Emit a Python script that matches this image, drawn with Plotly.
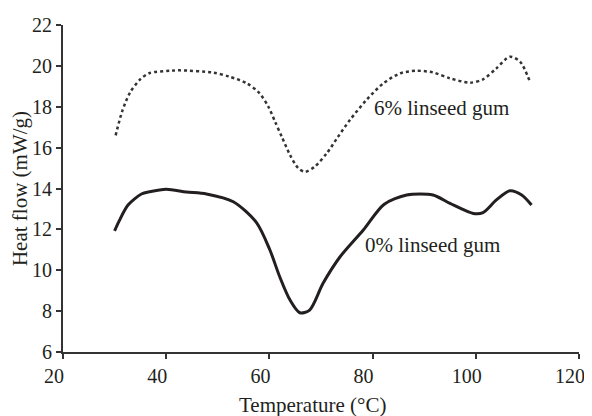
import plotly.graph_objects as go

# 0% linseed gum (solid)
temp_0 = [30.0, 30.8, 32.6, 35.2, 36.8, 40.0, 43.9, 47.8, 53.0, 57.5, 60.1, 62.0, 64.0, 65.9, 67.8,
          70.4, 73.7, 78.2, 82.2, 86.6, 91.7, 95.0, 99.5, 101.4, 104.0, 106.6, 108.9, 110.8]
flow_0 = [11.93, 12.37, 13.19, 13.73, 13.84, 13.96, 13.83, 13.73, 13.35, 12.33, 10.99, 9.68, 8.54, 7.92, 8.05,
          9.36, 10.66, 11.97, 13.22, 13.68, 13.68, 13.27, 12.78, 12.82, 13.44, 13.89, 13.68, 13.19]

# 6% linseed gum (dotted)
temp_6 = [30.2, 31.5, 33.0, 35.0, 36.8, 40.7, 42.7, 49.1, 52.3, 55.6, 58.1, 59.8, 61.1, 62.4, 64.0,
          65.6, 66.9, 68.8, 71.1, 73.3, 75.6, 78.8, 82.1, 85.3, 88.5, 91.7, 95.0, 98.9,
          101.4, 104.0, 106.6, 108.6, 110.5]
flow_6 = [16.6, 17.8, 18.7, 19.35, 19.65, 19.76, 19.78, 19.67, 19.47, 19.15, 18.66, 18.0, 17.27, 16.53, 15.64,
          14.99, 14.82, 15.07, 15.72, 16.53, 17.35, 18.33, 19.15, 19.63, 19.76, 19.68, 19.39, 19.18,
          19.34, 19.88, 20.45, 20.2, 19.22]

x_ticks = [20, 40, 60, 80, 100, 120]
y_ticks = [6, 8, 10, 12, 14, 16, 18, 20, 22]

FONT = "Liberation Serif"
INK = "#231f20"

fig = go.Figure()
fig.add_trace(go.Scatter(x=temp_6, y=flow_6, mode="lines",
                         line=dict(color="#333333", width=2.5, dash="dot", shape="spline", smoothing=0.8),
                         showlegend=False))
fig.add_trace(go.Scatter(x=temp_0, y=flow_0, mode="lines",
                         line=dict(color=INK, width=3, shape="spline", smoothing=0.8),
                         showlegend=False))

fig.add_annotation(x=79.9, y=17.94, text="6% linseed gum", showarrow=False,
                   xanchor="left", yanchor="middle", font=dict(family=FONT, size=21, color=INK))
fig.add_annotation(x=78.1, y=11.23, text="0% linseed gum", showarrow=False,
                   xanchor="left", yanchor="middle", font=dict(family=FONT, size=21, color=INK))
# x-axis title (slightly left of centre, as in the reference)
fig.add_annotation(x=0.5, y=0, xref="paper", yref="paper", text="Temperature (°C)", showarrow=False,
                   xanchor="center", yanchor="middle", xshift=-9, yshift=-53,
                   font=dict(family=FONT, size=21, color=INK))

axis_common = dict(showgrid=False, zeroline=False, showline=True, linecolor="#333333", linewidth=2,
                   ticks="outside", ticklen=5, tickwidth=2, tickcolor="#333333",
                   ticklabeloverflow="allow", automargin=False,
                   tickfont=dict(family=FONT, size=20, color=INK))

# page body has an 8px default margin, so the figure is sized/offset to compensate
fig.update_layout(
    width=584, height=408,
    margin=dict(l=55, r=13, t=17, b=64),
    paper_bgcolor="white", plot_bgcolor="white",
    xaxis=dict(range=[20, 120], tickvals=x_ticks, ticklabelshift=-9, **axis_common),
    yaxis=dict(range=[6, 22], tickvals=y_ticks,
               title=dict(text="Heat flow (mW/g)", font=dict(family=FONT, size=21, color=INK), standoff=2),
               **axis_common),
)

fig.write_html("out.html")
